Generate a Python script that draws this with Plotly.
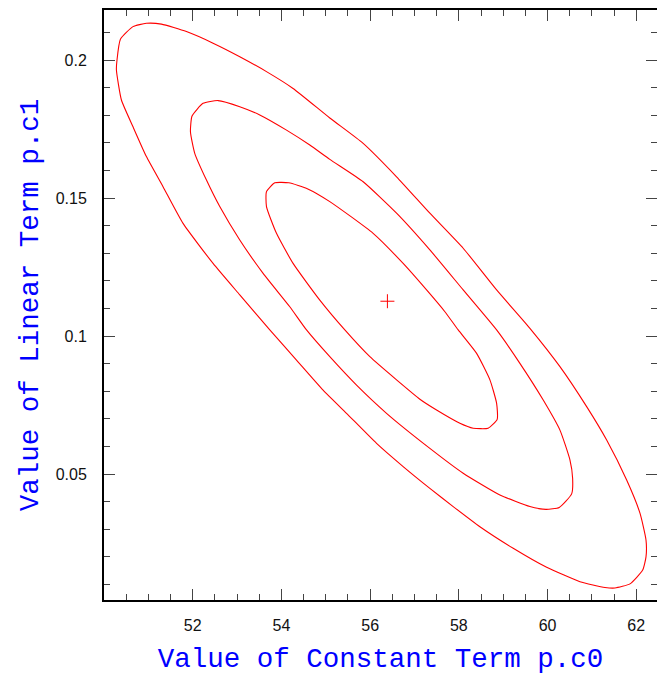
import plotly.graph_objects as go

# Best-fit parameter values
best_c0 = [56.39]
best_c1 = [0.1126]

# Confidence contours, closed polygons
outer_c0 = [50.293, 50.370, 50.654, 50.956, 51.295, 51.859, 52.459, 53.061, 53.663, 54.263,
            55.091, 55.843, 56.596, 57.347, 58.098, 58.852, 59.603, 60.280, 60.882, 61.333,
            61.784, 62.084, 62.220, 62.220, 62.145, 61.859, 61.520, 61.295, 60.731, 59.980,
            59.226, 58.475, 57.873, 57.347, 56.745, 56.145, 55.468, 54.940, 54.340, 53.738,
            53.061, 52.459, 51.782, 51.331, 50.956, 50.654, 50.393, 50.280, 50.293]
outer_c1 = [0.2000, 0.2075, 0.2121, 0.2133, 0.2130, 0.2103, 0.2061, 0.2012, 0.1958, 0.1897,
            0.1790, 0.1698, 0.1577, 0.1445, 0.1318, 0.1167, 0.1028, 0.0889, 0.0744, 0.0623,
            0.0478, 0.0358, 0.0261, 0.0200, 0.0152, 0.0102, 0.0087, 0.0089, 0.0110, 0.0162,
            0.0231, 0.0309, 0.0382, 0.0448, 0.0527, 0.0611, 0.0720, 0.0804, 0.0913, 0.1022,
            0.1149, 0.1263, 0.1408, 0.1541, 0.1650, 0.1758, 0.1855, 0.1964, 0.2000]

middle_c0 = [51.949, 51.985, 52.233, 52.572, 53.061, 53.512, 54.115, 54.640, 55.091, 55.843,
             56.596, 57.347, 58.098, 58.852, 59.377, 59.903, 60.280, 60.505, 60.566, 60.544,
             60.264, 59.964, 59.603, 58.926, 58.098, 57.347, 56.370, 55.694, 55.091, 54.566,
             54.189, 53.587, 53.061, 52.610, 52.310, 52.046, 51.949]
middle_c1 = [0.1740, 0.1797, 0.1843, 0.1853, 0.1831, 0.1801, 0.1746, 0.1692, 0.1640, 0.1559,
             0.1445, 0.1312, 0.1167, 0.1022, 0.0901, 0.0768, 0.0659, 0.0551, 0.0484, 0.0428,
             0.0379, 0.0372, 0.0382, 0.0424, 0.0503, 0.0593, 0.0720, 0.0822, 0.0925, 0.1022,
             0.1106, 0.1227, 0.1348, 0.1469, 0.1565, 0.1662, 0.1740]

inner_c0 = [53.663, 53.663, 53.851, 54.166, 54.595, 55.091, 56.068, 56.745, 57.273, 57.686,
            57.986, 58.401, 58.701, 58.852, 58.865, 58.662, 58.324, 58.024, 57.498, 57.122,
            56.596, 55.994, 55.430, 54.866, 54.263, 53.889, 53.663]
inner_c1 = [0.1469, 0.1523, 0.1555, 0.1555, 0.1533, 0.1487, 0.1372, 0.1263, 0.1167, 0.1088,
            0.1022, 0.0937, 0.0841, 0.0756, 0.0698, 0.0666, 0.0666, 0.0684, 0.0732, 0.0771,
            0.0841, 0.0925, 0.1022, 0.1130, 0.1263, 0.1372, 0.1469]

x_ticks = [52, 54, 56, 58, 60, 62]
y_ticks = [0.05, 0.1, 0.15, 0.2]
y_tick_text = ["0.05", "0.1", "0.15", "0.2"]

x_title = "Value of Constant Term p.c0"
y_title = "Value of Linear Term p.c1"

RED = "#ff0000"
fig = go.Figure()
for xs, ys in [(outer_c0, outer_c1), (middle_c0, middle_c1), (inner_c0, inner_c1)]:
    fig.add_trace(go.Scatter(x=xs, y=ys, mode="lines",
                             line=dict(color=RED, width=1.1, shape="spline", smoothing=0.5),
                             showlegend=False, hoverinfo="skip"))
fig.add_trace(go.Scatter(x=best_c0, y=best_c1, mode="markers",
                         marker=dict(symbol="cross-thin", size=10,
                                     line=dict(color=RED, width=1), color=RED),
                         showlegend=False))

tick_font = dict(family="Liberation Sans, Arial, sans-serif", size=16, color="#111111")
title_font = dict(family="Liberation Mono, DejaVu Sans Mono, monospace", size=27.5, color="#0000ff")

fig.update_layout(
    width=657, height=675,
    margin=dict(l=104, r=0, t=10, b=75),
    paper_bgcolor="white", plot_bgcolor="white",
    xaxis=dict(
        range=[50.0, 62.468], tickvals=x_ticks, ticktext=[str(v) for v in x_ticks],
        ticks="inside", ticklen=11, tickwidth=1.3, tickcolor="#444444",
        showline=True, linecolor="black", linewidth=2, mirror="ticks",
        showgrid=False, zeroline=False, tickfont=tick_font, automargin=False,
        ticklabelstandoff=10,
        minor=dict(dtick=0.5, tick0=50, ticks="inside", ticklen=6, tickwidth=1.3,
                   tickcolor="#444444", showgrid=False),
        title=dict(text=x_title, font=title_font, standoff=20),
    ),
    yaxis=dict(
        range=[0.00435, 0.21812], tickvals=y_ticks, ticktext=y_tick_text,
        ticks="inside", ticklen=11, tickwidth=1.3, tickcolor="#444444",
        showline=True, linecolor="black", linewidth=2, mirror="ticks",
        showgrid=False, zeroline=False, tickfont=tick_font, automargin=False,
        ticklabelstandoff=12,
        minor=dict(dtick=0.01, tick0=0, ticks="inside", ticklen=6, tickwidth=1.3,
                   tickcolor="#444444", showgrid=False),
        title=dict(text=y_title, font=title_font, standoff=9),
    ),
)

fig.write_html("out.html", config={"displayModeBar": False},
               post_script="document.body.style.margin='0';document.body.style.overflow='hidden';")
